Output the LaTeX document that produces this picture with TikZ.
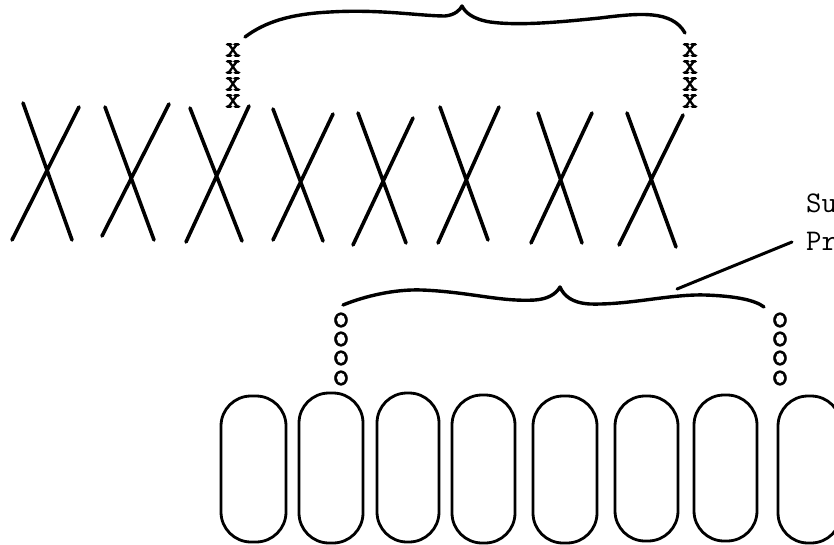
\documentclass[tikz,border=0pt]{standalone}
\usepackage{fontspec}
\newfontfamily\typebold[FakeBold=2.5]{Latin Modern Mono}
\newfontfamily\typeplain[FakeBold=1.2]{Latin Modern Mono}
\begin{document}
\begin{tikzpicture}[x=1pt,y=-1pt,
  bigx/.style={line width=3.6pt,line cap=round},
  brace/.style={line width=3.4pt,line cap=round,line join=round},
  cell/.style={line width=2.8pt,rounded corners=30pt},
  smallx/.style={inner sep=0pt,font=\typebold\fontsize{30}{30}\selectfont},
  smallo/.style={inner sep=0pt,font=\typeplain\fontsize{33}{33}\selectfont},
  lbl/.style={anchor=base west,inner sep=0pt,font=\ttfamily\fontsize{30}{30}\selectfont}]
\useasboundingbox (0,0) rectangle (834,545);
% big X row
\draw[bigx] (23,103) -- (72,240) (79,107) -- (12,240);
\draw[bigx] (105,107) -- (154,240) (169,104) -- (102,236);
\draw[bigx] (190,108) -- (242,241) (249,106) -- (186,242);
\draw[bigx] (273,109) -- (323,241) (333,114) -- (273,240);
\draw[bigx] (358,113) -- (406,243) (413,118) -- (353,245);
\draw[bigx] (440,107) -- (488,240) (499,107) -- (438,243);
\draw[bigx] (538,113) -- (582,243) (592,113) -- (531,243);
\draw[bigx] (627,113) -- (676,247) (683,115) -- (619,245);
% small x stacks
\foreach \yy [count=\i] in {50,67,84,101}{
  \node[smallx] (lx\i) at (233,\yy) {x};
  \node[smallx] (rx\i) at (690,\yy) {x};
}
% top brace
\draw[brace] (245,37) .. controls (265,22) and (290,14) .. (330,12)
  .. controls (380,9) and (420,16) .. (445,16)
  .. controls (455,15) and (460,10) .. (462,6)
  .. controls (465,12) and (472,19) .. (490,22)
  .. controls (520,26) and (560,22) .. (600,18)
  .. controls (640,13) and (672,10) .. (685,33);
% lower brace
\draw[brace] (343,305) .. controls (365,296) and (395,289) .. (422,290)
  .. controls (470,292) and (500,302) .. (535,300)
  .. controls (548,299) and (556,294) .. (560,287)
  .. controls (564,296) and (572,303) .. (590,304)
  .. controls (630,305) and (670,294) .. (705,295)
  .. controls (735,296) and (755,300) .. (764,307);
% small o stacks
\foreach \yy [count=\i] in {320,339,358,378}{
  \node[smallo] (lo\i) at (341,\yy) {o};
  \node[smallo] (ro\i) at (780,\yy) {o};
}
% cells
\draw[cell] (221,396) rectangle (286,542);
\draw[cell] (299,393) rectangle (363,543);
\draw[cell] (377,393) rectangle (439,542);
\draw[cell] (452,395) rectangle (515,543);
\draw[cell] (533,396) rectangle (597,543);
\draw[cell] (615,396) rectangle (678,541);
\draw[cell] (694,395) rectangle (757,541);
\draw[cell] (778,396) rectangle (841,543);
% label and leader
\node[lbl] (su) at (806,213) {Su};
\node[lbl] (pr) at (806,250) {Pr};
\coordinate (leadA) at (677,289);
\coordinate (leadB) at (792,242);
\draw[line width=3pt,line cap=round] (leadA) -- (leadB);
\end{tikzpicture}
\end{document}
